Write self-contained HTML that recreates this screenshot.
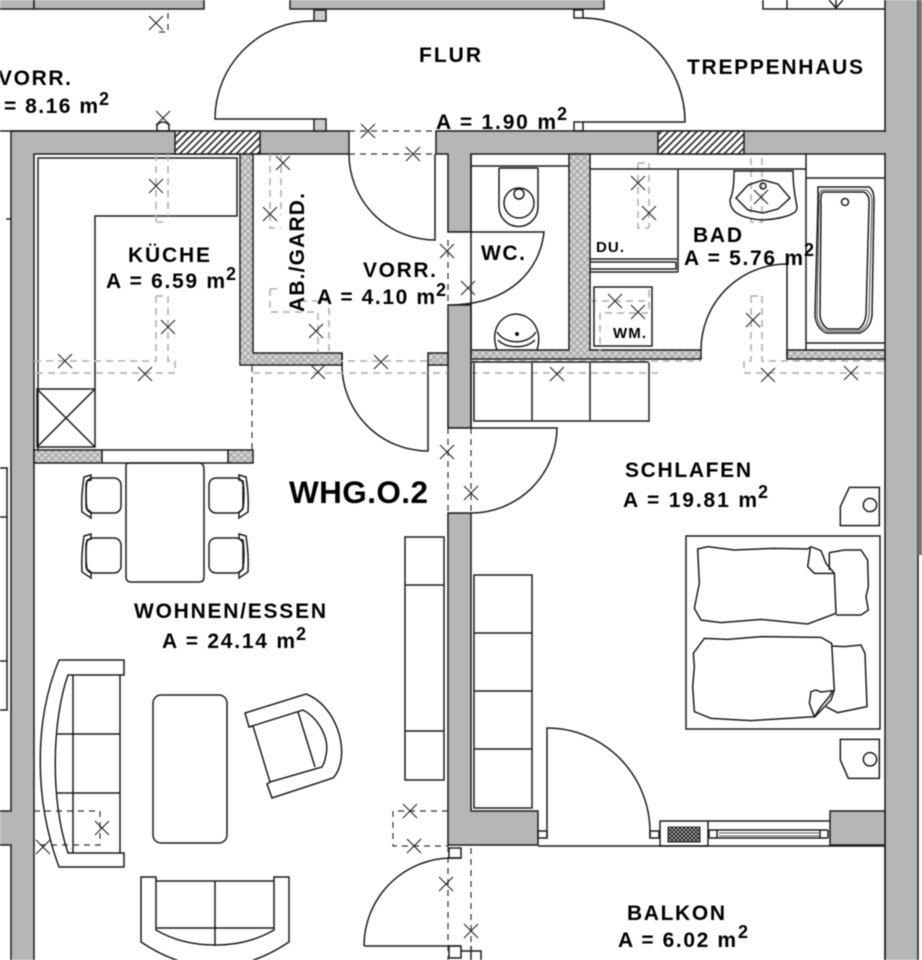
<!DOCTYPE html>
<html><head><meta charset="utf-8"><style>
html,body{margin:0;padding:0;background:#fff;width:922px;height:960px;overflow:hidden}
svg{display:block;filter:blur(.45px)}
text{font-family:"Liberation Sans",sans-serif;font-weight:bold;fill:#000;font-size:21px}
.s{font-size:18px}
.k{fill:none;stroke:#1c1c1c;stroke-width:1.5}
.w{fill:#b6b6b6;stroke:#1c1c1c;stroke-width:1.5}
.d{fill:none;stroke:#333;stroke-width:1.2;stroke-dasharray:6 5}
.g{fill:none;stroke:#b8b8b8;stroke-width:1.8;stroke-dasharray:7 5}
.x{fill:none;stroke:#222;stroke-width:1.1}
.z .k{stroke-width:4.5}
.p{fill:url(#p);stroke:#1c1c1c;stroke-width:1.5}
.h{fill:url(#h);stroke:#1c1c1c;stroke-width:1.5}
</style></head><body>
<svg width="922" height="960" viewBox="0 0 922 960" xmlns="http://www.w3.org/2000/svg">
<defs>
<pattern id="p" width="7" height="7" patternUnits="userSpaceOnUse"><rect width="7" height="7" fill="#d4d4d4"/><path d="M0 0L7 7M7 0L0 7" stroke="#a2a2a2" stroke-width="1.1"/></pattern>
<pattern id="h" width="5" height="5" patternUnits="userSpaceOnUse" patternTransform="rotate(-45)"><rect width="5" height="5" fill="#fff"/><rect width="5" height="1.6" fill="#222"/></pattern>
<pattern id="n" width="4" height="4" patternUnits="userSpaceOnUse"><rect width="4" height="4" fill="#ddd"/><path d="M0 0L4 4M4 0L0 4" stroke="#222" stroke-width="1.2"/></pattern>
<path id="x" d="M-7-7L7 7M-7 7L7-7"/>
</defs>
<rect width="922" height="960" fill="#fff"/>

<!-- top strip -->
<rect class="w" x="-2" y="-2" width="36" height="11"/><rect class="w" x="34" y="-2" width="170" height="11"/>
<rect class="w" x="290" y="-2" width="314" height="11"/>
<path class="k" d="M763 0V9H885M787 0V9M829 0L836 8L843 0M836 0V9"/>

<!-- right edge -->
<rect class="w" x="885" y="-2" width="33" height="964"/>
<rect x="918" y="0" width="4" height="555" fill="#777"/>
<!-- left edge -->
<path class="k" d="M8 468H-1V710H7V468M-1 517H7M-1 661H7"/>
<path class="k" d="M6 219H11"/>

<!-- walls -->
<path class="w" d="M11 962V845H-2V811H11V131H349V154H34V962Z"/>
<rect class="h" x="175" y="131" width="85" height="23"/>
<path class="w" d="M436 131H885V154H471V232H448V154H436Z"/>
<rect class="h" x="658" y="131" width="86" height="23"/>
<rect class="w" x="448" y="305" width="23" height="123"/>
<path class="w" d="M448 513H471V811H538V845H448Z"/>
<path class="w" d="M830 845V811H885V845Z"/>
<path class="k" d="M0 131H175M538 846H885M885 846V960"/>
<rect x="880" y="132" width="6" height="21" fill="#b6b6b6"/>

<!-- partitions -->
<path class="p" d="M240 154H253V353H342V365H240Z"/>
<rect class="p" x="428" y="353" width="20" height="12"/>
<path class="p" d="M569 154H590V350H701V359H471V350H569Z"/>
<rect class="p" x="787" y="350" width="98" height="9"/>
<rect class="p" x="34" y="450" width="68" height="13"/>
<rect class="p" x="228" y="450" width="25" height="13"/>
<path class="k" d="M102 450H228M102 463H228"/>

<!-- kitchen -->
<path class="k" d="M38 450V158H237V216H95V447M37 389H95V447H37ZM37 389L95 447M95 389L37 447"/>

<!-- doors -->
<path class="k" d="M314 21A98 98 0 0 0 215 119H314"/>
<path class="k" d="M314 10H326V21H314ZM314 119H326V131H314Z" style="fill:#ccc"/>
<path class="k" d="M583 18A103 104 0 0 1 685 122H583"/>
<path class="k" d="M574 10H583V18H574ZM574 122H583V131H574Z"/>
<path class="k" d="M349 154A86 86 0 0 0 435 240V154"/>
<path class="k" d="M448 232H544C540 270 510 305 448 305" style="fill:#fff"/>
<path class="k" d="M342 353V365A86 86 0 0 0 428 451V365"/>
<path class="k" d="M448 428H557A86 86 0 0 1 471 513H448" style="fill:#fff"/>
<path class="k" d="M787 359V264A86 86 0 0 0 701 350"/>
<path class="k" d="M364 946A88 88 0 0 1 452 858H461M364 946H461"/>
<path class="k" d="M449 848H461V858H449ZM449 946H461V958H449ZM461 951H481V960M471 946V960"/>
<path class="k" d="M547 838V728A103 104 0 0 1 650 832V838"/>
<path class="k" d="M538 831H547V838H538ZM650 831H659V838H650Z"/>

<!-- window -->
<rect class="k" x="660" y="821" width="48" height="25"/>
<rect x="668" y="827" width="32" height="15" fill="url(#n)" stroke="#222"/>
<path class="k" d="M708 821H830M709 830H828M717 838H820M717 830V838M820 830V838M709 838H828M709 830V838M828 830V838"/>
<path class="k" d="M719 833H819M719 836H819" style="stroke-width:.8"/>

<!-- dashes dark -->
<path class="d" d="M349 131H436M349 154H436M252 366V450M448 240V320M471 232V305M448 428V513M471 428V513M448 846V960M471 848V960"/>
<path class="d" d="M34 811H100V845H34M448 811H393V846H448"/>
<path class="d" d="M168 13V34M165 32H157"/>

<!-- grey dashes -->
<path class="g" d="M156 154V222M168 154V216M156 222H168M156 296V361H34M168 296V361H175V373H34M156 296H168"/>
<path class="g" d="M240 361H447M253 373H447M270 154V228H281M281 154V215M270 289H281M270 289V312H318V353M300 301H329V353"/>
<path class="g" d="M638 163H649M638 163V228H649M649 163V228M751 158V222H762V158M751 296H762M751 296V361H744V373H885M762 296V361H885"/>
<path class="g" d="M471 373H658M471 361H701M590 301H649V313H600V361M649 290V301"/>

<!-- wc -->
<path class="k" d="M471 154V350M471 166H569M499 168V207A19.5 19.5 0 0 0 538 207V168M499 168H538"/>
<circle class="k" cx="519" cy="203" r="15"/><circle class="k" cx="519" cy="194" r="5"/>
<path class="k" d="M497 350C490 330 500 315 516 314C532 315 543 330 537 350"/>
<path class="k" d="M497 332C505 345 528 345 536 332"/><path class="k" d="M498 340C506 349 526 349 535 340"/>
<circle cx="517" cy="334" r="2" fill="#111"/>

<!-- bad -->
<path class="k" d="M590 169H806V154M678 169V272M590 259H678M590 272H678M676 262V269H590M806 154V350M806 178H885M806 343H885M590 262H676"/>
<rect class="k" x="594" y="287" width="58" height="59"/>
<path class="k" d="M734 171H793C793 190 796 200 797 207C798 215 780 219 762 220C740 218 730 212 730 200C734 190 734 180 734 171Z"/>
<path class="k" d="M736 198L748 185L763 180L778 184L790 198L778 209L763 213L748 210Z"/>
<circle class="k" cx="763" cy="186" r="3"/>
<path class="k" d="M818 187H869Q874 190 874 200L872 315Q871 328 860 333H826Q816 328 815 315L818 200Q818 190 818 187Z"/>
<path class="k" d="M823 192H864Q870 195 869 205L866 315Q865 324 859 329H828Q821 325 820 315L821 205Q820 195 823 192Z"/>
<path class="k" d="M822 190H866Q872 193 872 202L869 315Q868 326 860 331H827Q818 327 817 315L819 202Q818 193 822 190Z" style="stroke-width:.8"/>
<circle class="k" cx="845" cy="202" r="3.5"/>

<!-- cabinets -->
<path class="k" d="M474 363V421H649V363M532 363V421M590 363V421M471 361V428"/>
<path class="k" d="M471 362H649"/>
<rect class="k" x="474" y="575" width="58" height="233"/>
<path class="k" d="M474 633H532M474 691H532M474 749H532"/>
<rect class="k" x="405" y="537" width="39" height="243"/>
<path class="k" d="M405 585H444M405 731H444"/>

<!-- dining -->
<path class="k" d="M126 465Q126 463 131 463H199Q204 463 204 470V577Q204 582 199 582H131Q126 582 126 577Z"/>
<rect class="k" x="86" y="478" width="35" height="35" rx="7"/><rect class="k" x="86" y="538" width="35" height="35" rx="7"/>
<rect class="k" x="209" y="478" width="34" height="35" rx="7"/><rect class="k" x="209" y="538" width="34" height="35" rx="7"/>
<path class="k" d="M91 475L84 477Q81 495 82 512L91 518V512L87 509Q85 495 87 481L91 480Z"/>
<path class="k" d="M91 534L84 536Q81 555 82 572L91 578V572L87 569Q85 555 87 540L91 539Z"/>
<path class="k" d="M239 475L246 477Q249 495 248 512L239 518V512L243 509Q245 495 243 481L239 480Z"/>
<path class="k" d="M239 534L246 536Q249 555 248 572L239 578V572L243 569Q245 555 243 540L239 539Z"/>

<!-- sofa left -->
<path class="k" d="M59 660H124V675H68C52 720 50 800 68 853H124V867H59C34 800 34 720 59 660Z"/>
<path class="k" d="M73 675V853M120 675V853M57 734H120M57 793H120"/>
<rect class="k" x="153" y="695" width="74" height="148" rx="8"/>
<!-- armchair -->
<path class="k" d="M245 713L306 694C330 703 345 735 341 760Q339 772 333 778L272 798L267 784L270 782L253 726L249 727Z"/>
<path class="k" d="M249 727L303 710C318 718 330 738 326 755Q325 762 322 767L270 782M298 712L315 767"/>
<!-- sofa bottom -->
<path class="k" d="M141 877H156V930C190 950 240 950 274 930V877H289V942C240 975 190 975 141 942Z"/>
<path class="k" d="M156 881H274M156 928H274M215 881V946"/>

<!-- bed -->
<rect class="k" x="686" y="536" width="194" height="193"/>
<g class="z" transform="translate(461 480) scale(.33333)">
<path class="k" d="M710 207L740 200L820 210L940 205L1040 207L1050 200L1080 212L1095 250L1120 280L1125 400L1040 432L900 418L780 428L720 420L700 385L715 310Z"/>
<path class="k" d="M1048 204L1040 260L1060 280H1120"/>
<path class="k" d="M1105 218L1150 210L1200 210L1220 240L1222 320L1215 350L1222 390L1200 405H1125M1105 218V270"/>
<path class="k" d="M730 475L800 478L900 470L1080 472L1112 490L1120 630L1110 660L1062 710L980 715L870 722L750 715L700 695L695 620L700 560L697 520Z"/>
<path class="k" d="M1050 635L1045 670L1060 710L1080 680L1105 650L1115 632L1080 636L1065 630Z"/>
<path class="k" d="M1112 498L1150 500L1200 495L1212 520L1215 600L1218 680L1130 698L1095 680"/>
<path class="k" d="M1165 22H1255V137H1138V80Z"/><circle class="k" cx="1227" cy="75" r="20"/>
<path class="k" d="M1138 778H1255V895H1162L1138 840Z"/><circle class="k" cx="1227" cy="838" r="20"/>
</g>

<!-- X marks -->
<g class="x">
<use href="#x" x="156" y="23"/><use href="#x" x="163" y="118"/><use href="#x" x="368" y="131"/><use href="#x" x="413" y="154"/>
<use href="#x" x="283" y="163"/><use href="#x" x="156" y="186"/><use href="#x" x="270" y="214"/><use href="#x" x="447" y="251"/>
<use href="#x" x="168" y="327"/><use href="#x" x="316" y="331"/><use href="#x" x="65" y="361"/><use href="#x" x="145" y="374"/>
<use href="#x" x="381" y="362"/><use href="#x" x="318" y="372"/><use href="#x" x="447" y="452"/><use href="#x" x="468" y="288"/>
<use href="#x" x="638" y="183"/><use href="#x" x="649" y="213"/><use href="#x" x="761" y="197"/><use href="#x" x="615" y="301"/>
<use href="#x" x="638" y="312"/><use href="#x" x="753" y="320"/><use href="#x" x="557" y="374"/><use href="#x" x="768" y="375"/>
<use href="#x" x="851" y="373"/><use href="#x" x="102" y="828"/><use href="#x" x="43" y="847"/><use href="#x" x="410" y="811"/>
<use href="#x" x="414" y="846"/><use href="#x" x="446" y="884"/><use href="#x" x="471" y="493"/><use href="#x" x="471" y="931"/>
</g>
<path class="k" d="M157 131V125Q163 119 169 125V131"/>

<!-- labels -->
<text x="-2" y="85" textLength="73">VORR.</text>
<text x="4" y="113" textLength="94">= 8.16 m</text><text class="s" x="99" y="105">2</text>
<text x="419" y="62" textLength="62">FLUR</text>
<text x="436" y="129" textLength="120">A = 1.90 m</text><text class="s" x="557" y="120">2</text>
<text x="687" y="74" textLength="176">TREPPENHAUS</text>
<text x="128" y="262" textLength="82">KÜCHE</text>
<text x="106" y="288" textLength="119">A = 6.59 m</text><text class="s" x="226" y="280">2</text>
<text x="363" y="277" textLength="73">VORR.</text>
<text x="317" y="304" textLength="118">A = 4.10 m</text><text class="s" x="436" y="296">2</text>
<text transform="translate(304 312) rotate(-90)" textLength="119">AB./GARD.</text>
<text x="481" y="260" textLength="44">WC.</text>
<text style="font-size:15px" x="596" y="252" textLength="28">DU.</text>
<text x="693" y="242" textLength="49">BAD</text>
<text x="684" y="265" textLength="119">A = 5.76 m</text><text class="s" x="804" y="256">2</text>
<text style="font-size:15px" x="613" y="338" textLength="33">WM.</text>
<text x="625" y="477" textLength="126">SCHLAFEN</text>
<text x="623" y="507" textLength="134">A = 19.81 m</text><text class="s" x="758" y="498">2</text>
<text style="font-size:31.5px" x="289" y="503" textLength="139">WHG.O.2</text>
<text x="134" y="618" textLength="192">WOHNEN/ESSEN</text>
<text x="162" y="648" textLength="133">A = 24.14 m</text><text class="s" x="296" y="640">2</text>
<text x="627" y="920" textLength="98">BALKON</text>
<text x="618" y="947" textLength="118">A = 6.02 m</text><text class="s" x="738" y="938">2</text>
</svg>
</body></html>
